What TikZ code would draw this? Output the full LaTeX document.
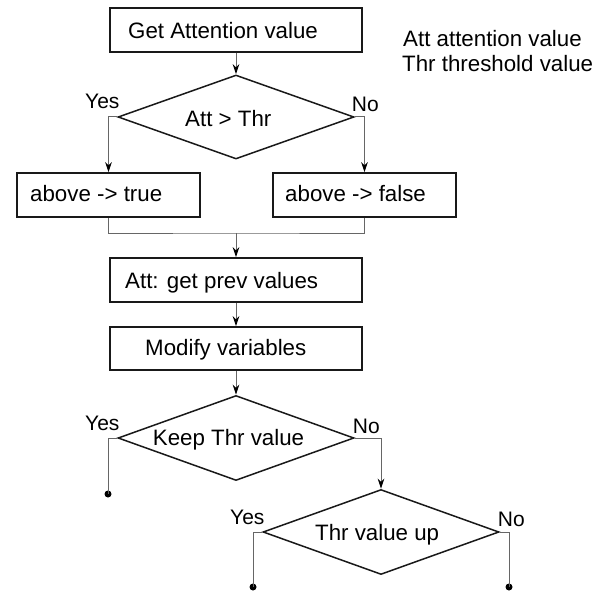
\documentclass[tikz,border=0pt]{standalone}
\usepackage{fontspec}
\setmainfont{Liberation Sans}
\usetikzlibrary{shapes.geometric,arrows.meta}
\begin{document}
\begin{tikzpicture}[x=1pt,y=-1pt,
  box/.style={draw=black!90, line width=1.5pt, rectangle, inner sep=0pt},
  dec/.style={draw=black!90, line width=1.5pt, diamond, inner sep=0pt, aspect=2.8},
  txt/.style={anchor=base west, inner sep=0pt, font=\fontsize{22.3}{26}\selectfont},
  yn/.style={anchor=base west, inner sep=0pt, font=\fontsize{21}{24}\selectfont},
  conn/.style={draw=black!60, line width=1pt},
  arr/.style={conn, -{Stealth[length=10pt,width=6.5pt,inset=3pt,black]}},
  dotnode/.style={circle, fill=black, inner sep=0pt, minimum size=7pt}
]
\useasboundingbox (0,0) rectangle (607,591);

% boxes
\node[box, minimum width=252pt, minimum height=44pt] (b1) at (236,30) {};
\node[box, minimum width=183pt, minimum height=44pt] (b2) at (108.5,195) {};
\node[box, minimum width=183pt, minimum height=44pt] (b3) at (364.5,195) {};
\node[box, minimum width=252pt, minimum height=44pt] (b4) at (236,280) {};
\node[box, minimum width=252pt, minimum height=43pt] (b5) at (236,348.5) {};

% decisions
\node[dec, minimum width=236pt, minimum height=84pt] (d1) at (236,117) {};
\node[dec, minimum width=236pt, minimum height=85pt] (d2) at (236,438) {};
\node[dec, minimum width=236pt, minimum height=85pt] (d3) at (381,532) {};

% texts
\node[txt] (t1) at (128,38.3) {Get Attention value};
\node[txt] (t2) at (30,201.7) {above -> true};
\node[txt] (t3) at (285,201.7) {above -> false};
\node[txt] (t4) at (125,288.3) {Att: get prev values};
\node[txt] (t5) at (145,355) {Modify variables};
\node[txt] (td1) at (185,126) {Att > Thr};
\node[txt] (td2) at (152.7,445) {Keep Thr value};
\node[txt] (td3) at (315,540) {Thr value up};
\node[txt] (leg1) at (403,46.7) {Att attention value};
\node[txt] (leg2) at (402,71.7) {Thr threshold value};

% yes/no labels
\node[yn] (y1) at (85,109) {Yes};
\node[yn] (n1) at (351.7,111.7) {No};
\node[yn] (y2) at (85,430.7) {Yes};
\node[yn] (n2) at (352.7,433.3) {No};
\node[yn] (y3) at (230,524.3) {Yes};
\node[yn] (n3) at (497.7,526.7) {No};

% end points
\node[dotnode] (e1) at (108,494) {};
\node[dotnode] (e2) at (253,587) {};
\node[dotnode] (e3) at (509,587) {};
\coordinate (m) at (236,233);

% connectors
\draw[arr] (b1.south) -- (d1.north);
\draw[arr] (d1.west) -| (b2.north);
\draw[arr] (d1.east) -| (b3.north);
\draw[conn] (b2.south) |- (m) -| (b3.south);
\draw[arr] (m) -- (b4.north);
\draw[arr] (b4.south) -- (b5.north);
\draw[arr] (b5.south) -- (d2.north);
\draw[conn] (d2.west) -| (e1.center);
\draw[arr] (d2.east) -| (d3.north);
\draw[conn] (d3.west) -| (e2.center);
\draw[conn] (d3.east) -| (e3.center);
\end{tikzpicture}
\end{document}
